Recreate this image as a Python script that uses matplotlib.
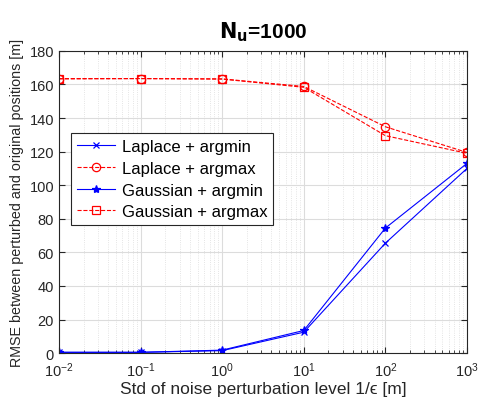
import numpy as np
import matplotlib
matplotlib.use("Agg")
import matplotlib.pyplot as plt

plt.rcParams['font.family'] = ['Liberation Sans', 'DejaVu Sans']

noise_levels = [1e-2, 1e-1, 1e0, 1e1, 1e2, 1e3]
laplace_argmin = [0.5, 0.5, 1.5, 12.5, 65.5, 110.0]
laplace_argmax = [163.5, 163.5, 163.3, 158.8, 134.8, 119.5]
gaussian_argmin = [0.5, 0.5, 1.8, 13.5, 74.5, 113.0]
gaussian_argmax = [163.3, 163.5, 163.2, 158.3, 129.5, 119.0]

fig = plt.figure(figsize=(4.78, 4.02), dpi=100)
ax = fig.add_axes([0.1234, 0.119, 0.8536, 0.752])

dark = '#262626'
ax.plot(noise_levels, laplace_argmin, '-', color='#0000ff', lw=0.8, marker='x', ms=5, mew=0.9,
        label='Laplace + argmin')
ax.plot(noise_levels, laplace_argmax, '--', color='#ff0000', lw=0.8, marker='o', ms=6, mfc='none',
        mew=0.9, label='Laplace + argmax')
ax.plot(noise_levels, gaussian_argmin, '-', color='#0000ff', lw=0.8, marker='*', ms=6, mew=0.9,
        label='Gaussian + argmin')
ax.plot(noise_levels, gaussian_argmax, '--', color='#ff0000', lw=0.8, marker='s', ms=6, mfc='none',
        mew=0.9, label='Gaussian + argmax')

ax.set_xscale('log')
ax.set_xlim(1e-2, 1e3)
ax.set_ylim(0, 180)
ax.set_yticks(np.arange(0, 181, 20))
ax.grid(True, which='major', color='#dcdcdc', lw=0.8)
ax.grid(True, which='minor', axis='x', color='#dcdcdc', lw=0.6, ls=':')
ax.set_axisbelow(True)
ax.tick_params(which='both', direction='in', colors=dark, labelsize=10.5, top=True, right=True)
ax.tick_params(which='major', length=4)
ax.tick_params(which='minor', length=2)
ax.tick_params(axis='x', pad=5.5)
for s in ax.spines.values():
    s.set_color(dark)
    s.set_linewidth(0.8)

ax.set_xlabel('Std of noise perturbation level 1/\u03f5 [m]', fontsize=12.5, color=dark, labelpad=1)
ax.set_ylabel('RMSE between perturbed and original positions [m]', fontsize=10.3, color=dark)
ax.set_title(r'$\mathbf{N_u}$=1000', fontsize=15, fontweight='bold', pad=10)

leg = ax.legend(loc='upper left', bbox_to_anchor=(0.029, 0.727), fontsize=12, frameon=True,
                fancybox=False, edgecolor=dark, framealpha=1, handlelength=2.3,
                borderpad=0.35, labelspacing=0.4, handletextpad=0.4, borderaxespad=0)
leg.get_frame().set_linewidth(0.8)

fig.savefig('out.png', dpi=100)
